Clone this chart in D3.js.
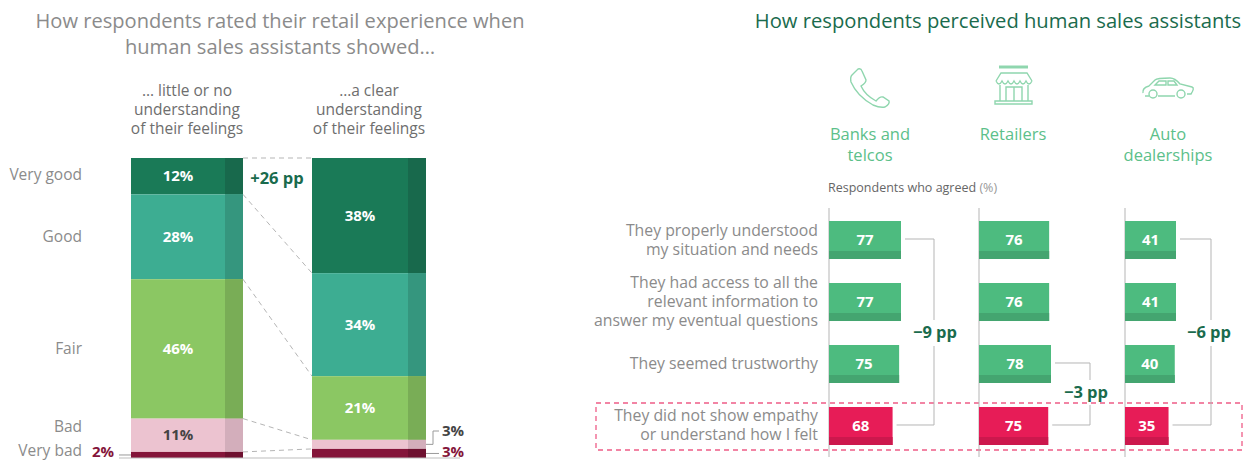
<!DOCTYPE html>
<html>
<head>
<meta charset="utf-8">
<script src="https://cdn.jsdelivr.net/npm/d3@7"></script>
<style>
  html, body { margin: 0; padding: 0; background: #fff; }
  svg { display: block; font-family: "Open Sans", sans-serif; }
</style>
</head>
<body>
<svg id="chart" width="1253" height="460"></svg>
<script>
// Left panel data
const ratings = ['Very good', 'Good', 'Fair', 'Bad', 'Very bad'];
const littleUnderstanding = [12, 28, 46, 11, 2];
const clearUnderstanding = [38, 34, 21, 3, 3];
const ratingColors = ['#1a7a57', '#3dad92', '#8bc763', '#ecc3d0', '#84153a'];
const ratingStrips = ['#18694c', '#35967e', '#79ad56', '#d3aebb', '#6e1130'];
const ratingLabelY = [180, 242, 354, 432, 456];
const columnHeads = [
    ['… little or no', 'understanding', 'of their feelings'],
    ['…a clear', 'understanding', 'of their feelings']
];

// Right panel data
const sectors = [['Banks and', 'telcos'], ['Retailers'], ['Auto', 'dealerships']];
const statements = [
    ['They properly understood', 'my situation and needs'],
    ['They had access to all the', 'relevant information to', 'answer my eventual questions'],
    ['They seemed trustworthy'],
    ['They did not show empathy', 'or understand how I felt']
];
const banksTelcos = [77, 77, 75, 68];
const retailers = [76, 76, 78, 75];
const autoDealers = [41, 41, 40, 35];

const svg = d3.select('#chart');
const grey = '#8b8b8b';
const darkGreen = '#1a6b4d';

function multiline(parent, lines, x, y, lineHeight, anchor) {
    const t = parent.append('text').attr('text-anchor', anchor);
    lines.forEach((line, i) => {
        t.append('tspan').attr('x', x).attr('y', y + i * lineHeight).text(line);
    });
    return t;
}

// ---- Left panel ----
multiline(svg, ['How respondents rated their retail experience when', 'human sales assistants showed…'], 280, 28, 26, 'middle')
    .attr('font-size', 20.1).attr('fill', grey);

const yStack = d3.scaleLinear().domain([0, 99]).range([158, 458]);
const barX = d3.scaleOrdinal().domain([0, 1]).range([131, 312]);
const barWidth = [112, 114];
const stripWidth = 18;

function cumulate(values) {
    let sum = 0;
    return values.map(v => { const s = { y0: sum, y1: sum + v, v }; sum += v; return s; });
}
const stacks = [cumulate(littleUnderstanding), cumulate(clearUnderstanding)];

// dashed lines that join the two bars
const connectors = svg.append('g');
[0, 1, 2, 3].forEach(i => {
    if (i === 0) {
        connectors.append('line')
            .attr('x1', barX(0) + barWidth[0]).attr('x2', barX(1))
            .attr('y1', yStack(0)).attr('y2', yStack(0));
    }
    connectors.append('line')
        .attr('x1', barX(0) + barWidth[0]).attr('x2', barX(1))
        .attr('y1', yStack(stacks[0][i].y1)).attr('y2', yStack(stacks[1][i].y1));
});
connectors.selectAll('line')
    .attr('stroke', '#b5b5b5').attr('stroke-width', 1).attr('stroke-dasharray', '5,4');

stacks.forEach((stack, b) => {
    const g = svg.append('g');
    g.selectAll('.seg').data(stack).join('rect')
        .attr('x', barX(b))
        .attr('y', d => yStack(d.y0))
        .attr('width', barWidth[b])
        .attr('height', d => yStack(d.y1) - yStack(d.y0))
        .attr('fill', (d, i) => ratingColors[i]);
    g.selectAll('.strip').data(stack).join('rect')
        .attr('x', barX(b) + barWidth[b] - stripWidth)
        .attr('y', d => yStack(d.y0))
        .attr('width', stripWidth)
        .attr('height', d => yStack(d.y1) - yStack(d.y0))
        .attr('fill', (d, i) => ratingStrips[i]);
    g.selectAll('text').data(stack.filter(d => d.v > 3)).join('text')
        .attr('x', barX(b) + (barWidth[b] - stripWidth) / 2)
        .attr('y', d => yStack((d.y0 + d.y1) / 2) + 5)
        .attr('text-anchor', 'middle')
        .attr('font-size', 15).attr('font-weight', 700)
        .attr('fill', d => d.v === 11 ? '#444' : '#fff')
        .text(d => d.v + '%');
    multiline(svg, columnHeads[b], barX(b) + barWidth[b] / 2, 96, 19, 'middle')
        .attr('font-size', 15.5).attr('fill', '#6e6e6e');
});

svg.append('g').selectAll('text').data(ratings).join('text')
    .attr('x', 82).attr('y', (d, i) => ratingLabelY[i])
    .attr('text-anchor', 'end')
    .attr('font-size', 15.5).attr('fill', grey).text(d => d);

// baseline and small-value callouts
svg.append('line').attr('x1', 119).attr('x2', 460)
    .attr('y1', yStack(99)).attr('y2', yStack(99))
    .attr('stroke', '#bdbdbd').attr('stroke-width', 1);
const veryBadY = i => yStack((stacks[i][4].y0 + stacks[i][4].y1) / 2);
const badY = yStack((stacks[1][3].y0 + stacks[1][3].y1) / 2);
svg.append('path')
    .attr('d', `M119,${veryBadY(0)}H131M426,${veryBadY(1)}H439M426,${badY}H433V431H439`)
    .attr('fill', 'none').attr('stroke', '#9a9a9a');
svg.append('text').attr('x', 92).attr('y', 457).attr('font-size', 15).attr('font-weight', 700)
    .attr('fill', '#84153a').text(littleUnderstanding[4] + '%');
svg.append('text').attr('x', 442).attr('y', 457).attr('font-size', 15).attr('font-weight', 700)
    .attr('fill', '#84153a').text(clearUnderstanding[4] + '%');
svg.append('text').attr('x', 442).attr('y', 436).attr('font-size', 15).attr('font-weight', 700)
    .attr('fill', '#444').text(clearUnderstanding[3] + '%');
svg.append('text').attr('x', 277).attr('y', 184).attr('text-anchor', 'middle')
    .attr('font-size', 16.5).attr('font-weight', 700).attr('fill', darkGreen).text('+26 pp');

// ---- Right panel ----
svg.append('text').attr('x', 998).attr('y', 28).attr('text-anchor', 'middle')
    .attr('font-size', 20.2).attr('fill', darkGreen).text('How respondents perceived human sales assistants');

const sectorCenter = [870, 1013, 1168];
const sectorGreen = '#5cc08a';
svg.append('g').selectAll('g').data(sectors).join('g').each(function(d, i) {
    multiline(d3.select(this), d, sectorCenter[i], 140, 21, 'middle')
        .attr('font-size', 16.5).attr('fill', sectorGreen);
});

svg.append('text').attr('x', 828).attr('y', 192).attr('font-size', 12.5).attr('fill', '#666')
    .text('Respondents who agreed ')
    .append('tspan').attr('fill', '#999').text('(%)');

const rowBand = d3.scaleBand().domain(d3.range(4)).range([221, 445]).paddingInner(0.387);
const panels = [
    { values: banksTelcos, x: d3.scaleLinear().domain([0, 77]).range([829, 901]) },
    { values: retailers, x: d3.scaleLinear().domain([0, 78]).range([979, 1051]) },
    { values: autoDealers, x: d3.scaleLinear().domain([0, 41]).range([1125, 1176]) }
];

// highlight box behind the last row
svg.append('rect').attr('x', 596).attr('y', 403).attr('width', 646).attr('height', 47)
    .attr('fill', 'none').attr('stroke', '#ee5c87').attr('stroke-width', 1.3).attr('stroke-dasharray', '5,4');

panels.forEach(p => {
    const g = svg.append('g');
    g.append('line').attr('x1', p.x(0)).attr('x2', p.x(0)).attr('y1', 208).attr('y2', 457)
        .attr('stroke', '#b5b5b5');
    const rows = g.selectAll('g').data(p.values).join('g')
        .attr('transform', (d, i) => `translate(${p.x(0)},${rowBand(i)})`);
    rows.append('rect')
        .attr('width', d => p.x(d) - p.x(0)).attr('height', rowBand.bandwidth())
        .attr('fill', (d, i) => i === 3 ? '#e71c57' : '#4dbb7f');
    rows.append('rect')
        .attr('y', rowBand.bandwidth() - 8)
        .attr('width', d => p.x(d) - p.x(0)).attr('height', 8)
        .attr('fill', (d, i) => i === 3 ? '#cc184d' : '#44a570');
    rows.append('text')
        .attr('x', d => (p.x(d) - p.x(0)) / 2).attr('y', 24)
        .attr('text-anchor', 'middle').attr('font-size', 15).attr('font-weight', 700)
        .attr('fill', '#fff').text(d => d);
});

svg.append('g').selectAll('g').data(statements).join('g').each(function(d, i) {
    const mid = rowBand(i) + rowBand.bandwidth() / 2;
    multiline(d3.select(this), d, 818, mid + 5 - (d.length - 1) * 9.5, 19, 'end')
        .attr('font-size', 15.8).attr('fill', grey);
});

// bracket from a bar to the empathy row, with a gap for the label
function bracket(p, fromRow, xLine, gapTop, gapBottom, label, labelX) {
    const y0 = rowBand(fromRow) + rowBand.bandwidth() / 2 - 1;
    const y1 = rowBand(3) + rowBand.bandwidth() / 2 - 1;
    svg.append('path')
        .attr('d', `M${p.x(p.values[fromRow]) + 4},${y0}H${xLine}V${gapTop}M${xLine},${gapBottom}V${y1}H${p.x(p.values[3]) + 4}`)
        .attr('fill', 'none').attr('stroke', '#b5b5b5');
    svg.append('text').attr('x', labelX).attr('y', (gapTop + gapBottom) / 2 + 5)
        .attr('text-anchor', 'middle').attr('font-size', 16.5).attr('font-weight', 700)
        .attr('fill', darkGreen).text(label);
}
bracket(panels[0], 0, 934, 320, 346, '−9 pp', 935);
bracket(panels[1], 2, 1090, 380, 405, '−3 pp', 1086);
bracket(panels[2], 0, 1211, 320, 346, '−6 pp', 1209);

// ---- Icons ----
const icons = svg.append('g').attr('fill', 'none').attr('stroke', '#8fd6ae').attr('stroke-width', 1.4);
// phone
icons.append('path').attr('d', 'M852,75 L858,69 Q861,68 862,71 L866,80 Q866,83 861,86 Q865,95 876,101 Q880,96 883,97 L889,101 Q890,104 885,107 Q880,108 873,105 Q857,96 851,82 Q850,77 852,75Z');
// store
icons.append('path').attr('d', 'M999,67H1028M996,81L1001,73H1027L1032,81M996,81Q999,87 1002,81Q1005,87 1008,81Q1011,87 1014,81Q1017,87 1020,81Q1023,87 1026,81Q1029,87 1032,81M1000,85V101M1028,85V101M1006,87H1022V101H1006ZM1014,87V101M995,104H1032V101H995Z');
icons.append('line').attr('x1', 999).attr('x2', 1028).attr('y1', 67).attr('y2', 67).attr('stroke-width', 3);
// car
icons.append('path').attr('d', 'M1143,93Q1142,88 1149,86L1155,80Q1157,78 1170,78Q1175,78 1180,84L1192,87Q1195,88 1191,94H1187M1175,96H1158M1149,96H1145M1155,85L1159,81H1166V85ZM1168,81H1174L1177,85H1168Z');
icons.append('circle').attr('cx', 1153).attr('cy', 94).attr('r', 4);
icons.append('circle').attr('cx', 1181).attr('cy', 94).attr('r', 4);
</script>
</body>
</html>
